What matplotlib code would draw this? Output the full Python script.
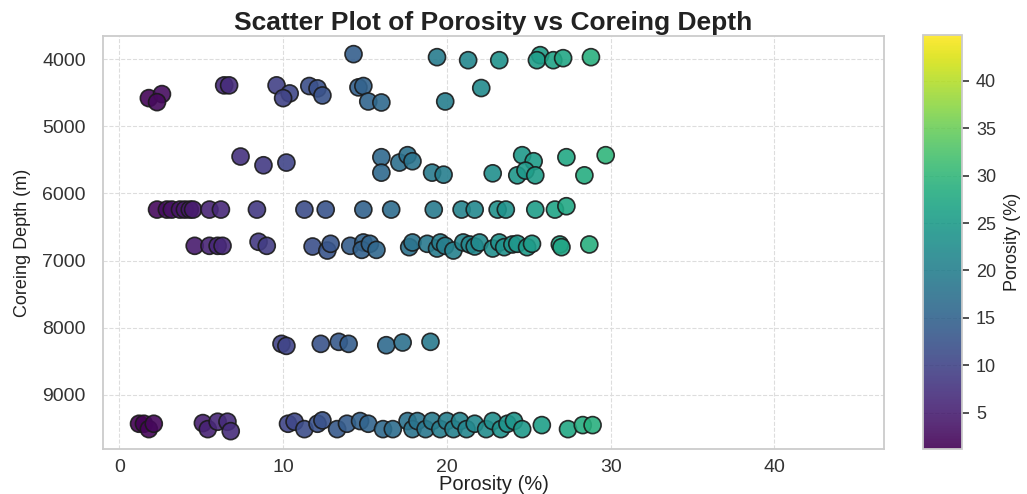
import matplotlib
matplotlib.use("Agg")
import matplotlib.pyplot as plt
import seaborn as sns
import numpy as np

# Core samples grouped by coring interval: porosity (%) and depth (m)
por_4000 = [14.3, 19.4, 21.3, 23.2, 25.7, 25.5, 26.5, 27.1, 28.8]
dep_4000 = [3925, 3970, 4015, 4015, 3940, 4015, 4015, 3985, 3970]

por_4500 = [1.8, 2.6, 2.3, 6.4, 6.7, 9.6, 10.4, 10.0, 11.6, 12.1, 12.4,
            14.6, 14.9, 15.2, 16.0, 19.9, 22.1]
dep_4500 = [4580, 4520, 4640, 4390, 4390, 4390, 4510, 4580, 4400, 4435, 4540,
            4420, 4400, 4630, 4645, 4630, 4430]

por_5600 = [7.4, 8.8, 10.2, 16.0, 16.0, 17.1, 17.6, 17.9, 19.1, 19.8, 22.8,
            24.6, 25.3, 24.3, 24.8, 25.4, 27.3, 28.4, 29.7]
dep_5600 = [5450, 5580, 5540, 5460, 5690, 5540, 5430, 5520, 5690, 5720, 5700,
            5430, 5520, 5730, 5660, 5730, 5460, 5730, 5430]

por_6240 = [2.3, 2.9, 3.2, 3.7, 4.0, 4.3, 4.5, 5.5, 6.2, 8.4, 11.3, 12.6,
            14.9, 16.6, 19.2, 20.9, 21.7, 23.1, 23.6, 25.4, 26.6, 27.3]
dep_6240 = [6240, 6240, 6240, 6240, 6240, 6240, 6240, 6240, 6240, 6240, 6240,
            6240, 6240, 6240, 6240, 6240, 6240, 6240, 6240, 6240, 6240, 6190]

por_6780 = [4.6, 5.5, 6.0, 6.3, 8.5, 9.0, 11.8, 12.7, 12.9, 14.1, 14.9, 14.8,
            15.3, 15.7, 17.7, 17.9, 18.8, 19.4, 19.6, 19.9, 20.4, 21.0, 21.4,
            21.7, 22.0, 22.8, 23.2, 23.5, 24.0, 24.3, 24.9, 25.2, 26.9, 27.0,
            28.7]
dep_6780 = [6780, 6780, 6780, 6780, 6720, 6780, 6790, 6850, 6750, 6780, 6730,
            6840, 6750, 6840, 6800, 6730, 6750, 6820, 6730, 6780, 6850, 6730,
            6760, 6790, 6730, 6820, 6730, 6800, 6760, 6750, 6800, 6750, 6760,
            6800, 6760]

por_8230 = [9.9, 10.2, 12.3, 13.4, 14.0, 16.3, 17.3, 19.0]
dep_8230 = [8240, 8270, 8240, 8210, 8240, 8260, 8220, 8210]

por_9450 = [1.2, 1.5, 1.8, 2.1, 5.1, 5.4, 6.0, 6.6, 6.8, 10.3, 10.7, 11.3,
            12.1, 12.4, 13.3, 13.9, 14.7, 15.2, 16.1, 16.7, 17.6, 17.9, 18.2,
            18.7, 19.1, 19.6, 20.0, 20.4, 20.8, 21.2, 21.7, 22.4, 22.8, 23.3,
            23.7, 24.1, 24.6, 25.8, 27.4, 28.3, 28.9]
dep_9450 = [9430, 9430, 9510, 9430, 9420, 9510, 9400, 9400, 9540, 9430, 9400,
            9510, 9430, 9380, 9510, 9430, 9390, 9430, 9510, 9510, 9390, 9510,
            9390, 9510, 9390, 9510, 9390, 9510, 9390, 9510, 9430, 9510, 9390,
            9510, 9430, 9390, 9510, 9450, 9510, 9450, 9450]

x_ticks = [0, 10, 20, 30, 40]
y_ticks = [4000, 5000, 6000, 7000, 8000, 9000]
cbar_ticks = [5, 10, 15, 20, 25, 30, 35, 40]
porosity_range = (1.2, 44.8)

porosity = np.concatenate([por_4000, por_4500, por_5600, por_6240,
                           por_6780, por_8230, por_9450])
depth = np.concatenate([dep_4000, dep_4500, dep_5600, dep_6240,
                        dep_6780, dep_8230, dep_9450])

sns.set_style("whitegrid", {"grid.linestyle": "--", "axes.edgecolor": "#cccccc"})
plt.rcParams["font.family"] = ["Liberation Sans", "DejaVu Sans"]

fig = plt.figure(figsize=(10.27, 4.94), dpi=100)
ax = fig.add_axes([0.1003, 0.0911, 0.7605, 0.836])
cax = fig.add_axes([0.8987, 0.0911, 0.038, 0.838])

sc = ax.scatter(porosity, depth, c=porosity, cmap="viridis",
                vmin=porosity_range[0], vmax=porosity_range[1],
                s=150, edgecolors="#1a1a1a", linewidths=1.2, alpha=0.9,
                zorder=3)

ax.set_xlim(-1.0, 46.7)
ax.set_ylim(9806, 3655)
ax.set_xticks(x_ticks)
ax.set_yticks(y_ticks)
ax.tick_params(axis="both", labelsize=14, colors="#333333", labelcolor="#333333")
ax.tick_params(axis="y", pad=9)
ax.tick_params(axis="x", pad=4)
ax.grid(True, linestyle="--", color="#dddddd", linewidth=0.8)
for sp in ax.spines.values():
    sp.set_color("#cccccc")
    sp.set_linewidth(1.3)

ax.set_xlabel("Porosity (%)", fontsize=14.5, color="#222222", labelpad=-1)
ax.set_ylabel("Coreing Depth (m)", fontsize=13, color="#222222", labelpad=8)
ax.set_title("Scatter Plot of Porosity vs Coreing Depth", fontsize=19,
             fontweight="bold", color="#222222", pad=4)

cbar = fig.colorbar(sc, cax=cax)
cbar.set_ticks(cbar_ticks)
cbar.ax.tick_params(labelsize=13, length=5, width=1.2, color="#333333",
                    labelcolor="#333333", pad=5)
cbar.outline.set_edgecolor("#cccccc")
cbar.outline.set_linewidth(1.3)
cbar.set_label("Porosity (%)", fontsize=13, color="#222222", labelpad=6)

fig.savefig("out.png", dpi=100)
